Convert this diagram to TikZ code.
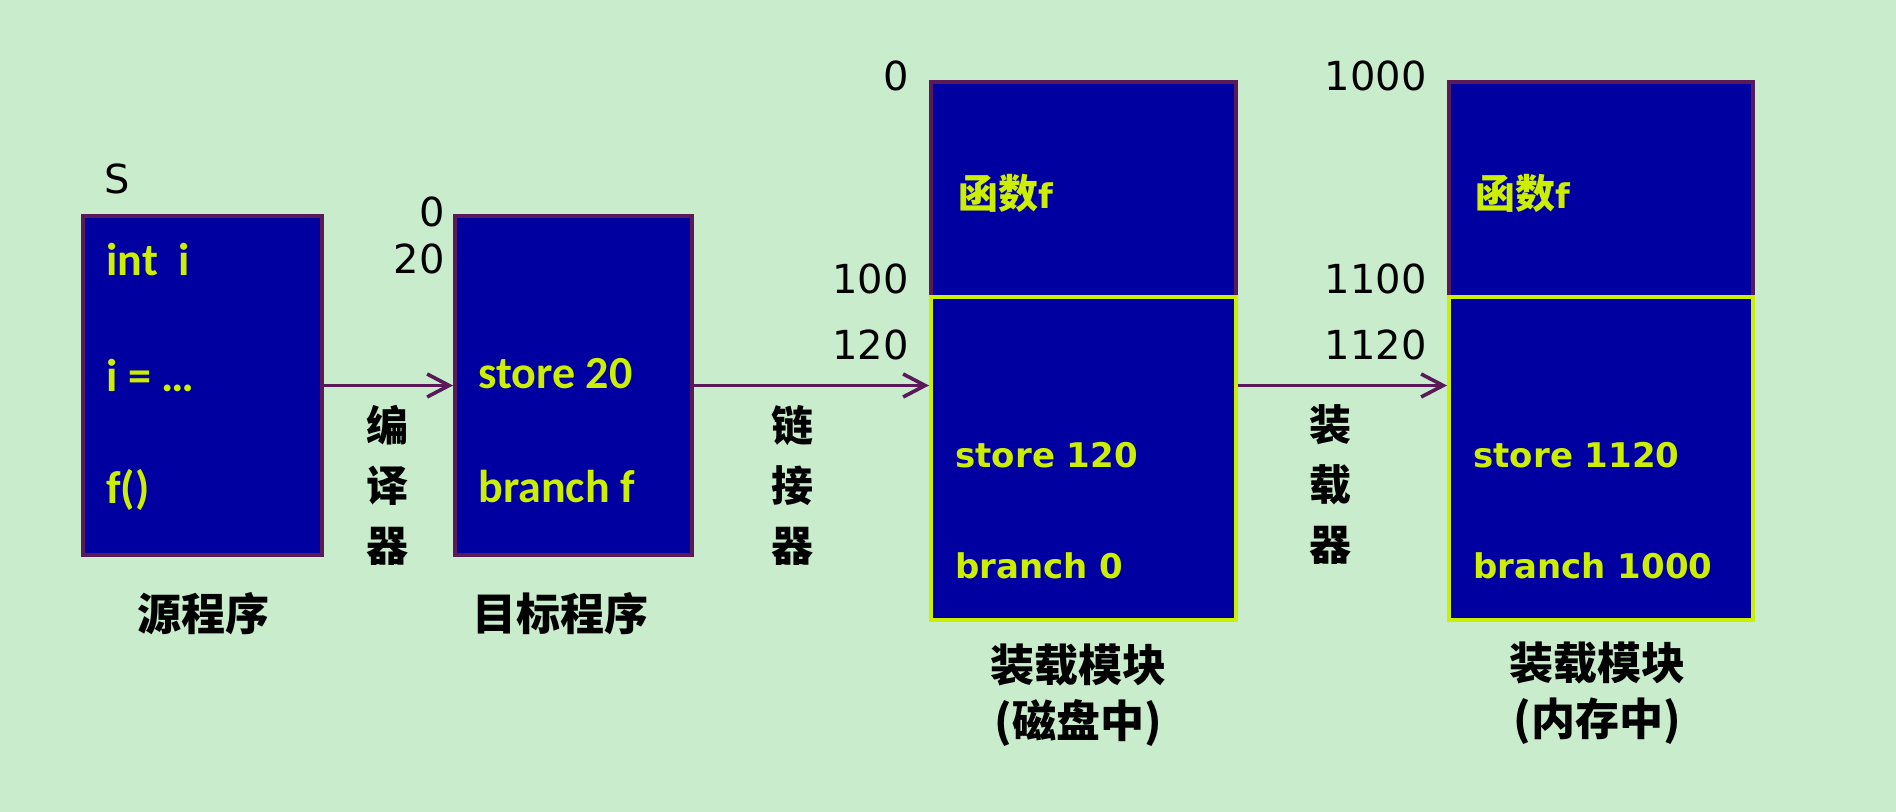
\documentclass[tikz,border=0pt]{standalone}
\usepackage{fontspec}
\setmainfont{DejaVu Sans}
\newfontfamily\calibri{Carlito}
\newfontfamily\cjk{Noto Sans CJK SC}
\usetikzlibrary{arrows.meta,positioning}
\definecolor{bgGreen}{RGB}{200,236,204}
\definecolor{boxBlue}{RGB}{0,0,160}
\definecolor{codeYellow}{RGB}{204,238,0}
\definecolor{edgePurple}{RGB}{90,26,90}

\tikzset{
  mem/.style={draw=edgePurple, line width=2pt, fill=boxBlue, inner sep=0pt},
  seg/.style={draw=codeYellow, line width=2pt, fill=boxBlue, inner sep=0pt},
  code/.style={text=codeYellow, anchor=west, inner sep=0pt, font=\calibri\bfseries\fontsize{23}{26}\selectfont},
  wcode/.style={text=codeYellow, anchor=west, inner sep=0pt, font=\bfseries\fontsize{17}{20}\selectfont},
  addr/.style={anchor=east, inner sep=0pt, font=\fontsize{20}{24}\selectfont},
  caption/.style={align=center, inner sep=0pt, font=\cjk\bfseries\fontsize{22}{28}\selectfont},
  tool/.style={align=center, inner sep=0pt, font=\cjk\bfseries\fontsize{21}{30}\selectfont},
  flow/.style={draw=edgePurple, line width=1.8pt, -{Straight Barb[length=11pt,width=11.5pt]}},
}

\begin{document}
\begin{tikzpicture}[x=0.5pt,y=-0.5pt]
\fill[bgGreen] (0,0) rectangle (1896,812);
\useasboundingbox (0,0) rectangle (1896,812);

% source and object program
\node[mem, minimum width=119.5pt, minimum height=169.5pt] (src) at (202.5,385.5) {};
\node[mem, minimum width=118.5pt, minimum height=169.5pt] (obj) at (573.5,385.5) {};

% load module on disk
\node[mem, minimum width=152.5pt, minimum height=107.5pt] (diskTop) at (1083.5,189.5) {};
\node[seg, minimum width=152.5pt, minimum height=161.5pt] (diskLow) at (1083.5,458.5) {};

% load module in memory
\node[mem, minimum width=152pt, minimum height=107.5pt] (ramTop) at (1601,189.5) {};
\node[seg, minimum width=152pt, minimum height=161.5pt] (ramLow) at (1601,458.5) {};

% box contents
\node[anchor=center, inner sep=0pt, font=\fontsize{20}{24}\selectfont] (sLabel) at (117,179) {S};
\node[code] (intI) at (106,260) {int\ \ i};
\node[code] (assignI) at (106,376) {i = …};
\node[code] (callF) at (106,490) {f()};

\node[code] (store20) at (478,374) {store 20};
\node[code] (branchF) at (478,487) {branch f};

\node[code, font=\bfseries\fontsize{17}{20}\selectfont] (funcDisk) at (958,193) {{\cjk\bfseries\fontsize{20}{22}\selectfont 函数}f};
\node[wcode] (store120) at (955,455) {store 120};
\node[wcode] (branch0) at (955,566) {branch 0};

\node[code, font=\bfseries\fontsize{17}{20}\selectfont] (funcRam) at (1475,193) {{\cjk\bfseries\fontsize{20}{22}\selectfont 函数}f};
\node[wcode] (store1120) at (1473,455) {store 1120};
\node[wcode] (branch1000) at (1473,566) {branch 1000};

% addresses
\node[addr] (objA0) at (445,212) {0};
\node[addr] (objA20) at (445,259) {20};
\node[addr] (diskA0) at (909,76) {0};
\node[addr] (diskA100) at (909,279) {100};
\node[addr] (diskA120) at (909,345) {120};
\node[addr] (ramA1000) at (1427,76) {1000};
\node[addr] (ramA1100) at (1427,279) {1100};
\node[addr] (ramA1120) at (1427,345) {1120};

% captions
\node[caption] (srcCap) at (203,614) {源程序};
\node[caption] (objCap) at (560,614) {目标程序};
\node[caption] (diskCap) at (1078,695) {装载模块\\(磁盘中)};
\node[caption] (ramCap) at (1597,693) {装载模块\\(内存中)};

% translation steps
\draw[flow] (src.east) -- (obj.west);
\draw[flow] (obj.east) -- (diskLow.west |- obj.east);
\draw[flow] (diskLow.east |- obj.east) -- (ramLow.west |- obj.east);

\node[tool] (compiler) at (387,485) {编\\译\\器};
\node[tool] (linker) at (792,485) {链\\接\\器};
\node[tool] (loader) at (1330,485) {装\\载\\器};
\end{tikzpicture}
\end{document}
